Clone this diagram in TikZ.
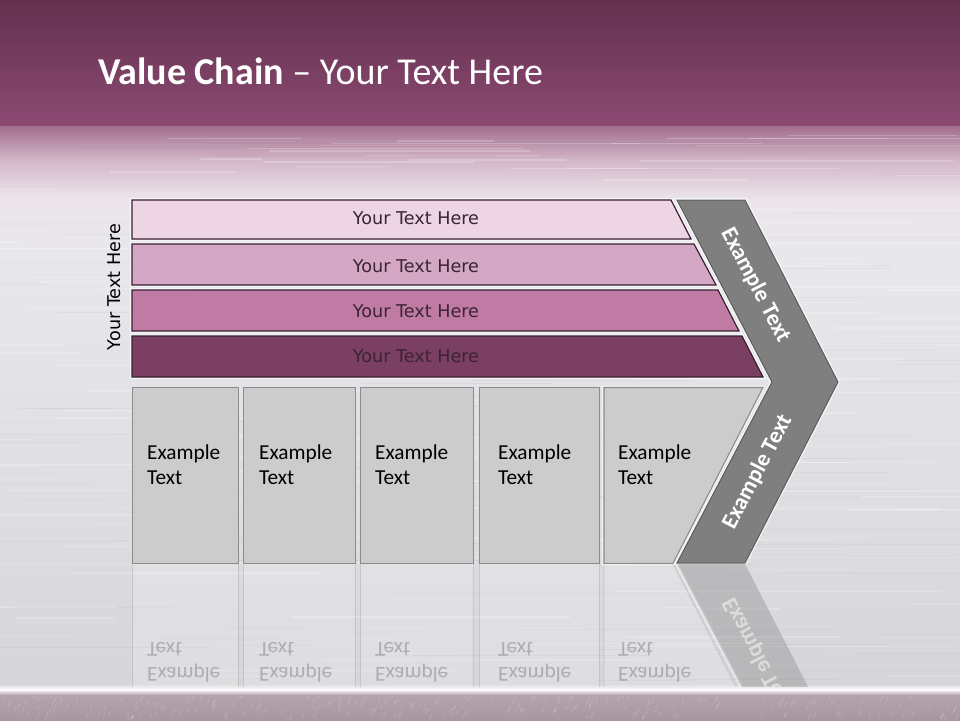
\documentclass[tikz,border=0pt]{standalone}
\usepackage{fontspec}
\setmainfont{Carlito}
\newfontfamily\dvs{DejaVu Sans}
\definecolor{bantop}{HTML}{62304E}
\definecolor{banbot}{HTML}{8D4B73}
\definecolor{fadeA}{HTML}{A4708F}
\definecolor{fadeB}{HTML}{D2B6C8}
\definecolor{fadeC}{HTML}{ECE6EC}
\definecolor{midA}{HTML}{E8E7EB}
\definecolor{midB}{HTML}{D6D6DA}
\definecolor{stripA}{HTML}{B5A3AE}
\definecolor{stripB}{HTML}{A8969F}
\definecolor{sone}{HTML}{EDD5E3}
\definecolor{stwo}{HTML}{D4A8C4}
\definecolor{sthree}{HTML}{BF7BA3}
\definecolor{sfour}{HTML}{7A3F62}
\definecolor{sline}{HTML}{3A1F33}
\definecolor{stext}{HTML}{3B2433}
\definecolor{boxfill}{HTML}{CCCCCC}
\definecolor{boxline}{HTML}{8C8C8C}
\definecolor{chev}{HTML}{7F7F7F}
\definecolor{chevline}{HTML}{5C5C5C}
\tikzset{
  stripe/.style={fill=#1,draw=sline,line width=1.2},
  stripetext/.style={font=\dvs\fontsize{17.6}{21}\selectfont,text=stext,anchor=base,inner sep=0},
  boxshape/.style={fill=boxfill,draw=boxline,line width=1.1},
  boxtext/.style={font=\fontsize{21.3}{25}\selectfont,align=left,anchor=base west,inner sep=0,text=black},
  chevtext/.style={font=\bfseries\fontsize{23}{27}\selectfont,text=white,inner sep=0},
  halo/.style={draw=white,line width=4,opacity=0.6},
}
\begin{document}
\begin{tikzpicture}[x=1pt,y=-1pt]
\useasboundingbox (0,0) rectangle (960,720);
% ---------- background ----------
\shade[top color=bantop,bottom color=banbot] (0,0) rectangle (960,127);
\shade[top color=fadeA,bottom color=fadeB] (0,126.5) rectangle (960,160);
\shade[top color=fadeB,bottom color=fadeC] (0,159.5) rectangle (960,200);
\shade[top color=fadeC,bottom color=midA] (0,199.5) rectangle (960,260);
\shade[top color=midA,bottom color=midB] (0,259.5) rectangle (960,688);
% brushed streaks
\pgfmathsetseed{11}
\foreach \i in {1,...,160}{
  \pgfmathsetmacro\yy{135+rnd*550}
  \pgfmathsetmacro\xx{-50+rnd*960}
  \pgfmathsetmacro\ll{60+rnd*320}
  \draw[white,opacity=0.22,line width=1.3] (\xx,\yy) -- ++(\ll,0);
}
\foreach \i in {1,...,90}{
  \pgfmathsetmacro\yy{135+rnd*550}
  \pgfmathsetmacro\xx{-50+rnd*960}
  \pgfmathsetmacro\ll{60+rnd*300}
  \draw[black,opacity=0.03,line width=1] (\xx,\yy) -- ++(\ll,0);
}
% bottom strip
\shade[top color=stripA,bottom color=stripB] (0,694) rectangle (960,720);
\foreach \i in {1,...,260}{
  \pgfmathsetmacro\yy{695+rnd*25}
  \pgfmathsetmacro\xx{rnd*960}
  \draw[white,opacity=0.18,line width=0.7] (\xx,\yy) -- ++(1.5+rnd*2,-3-rnd*3);
}
\shade[top color=midB,bottom color=white] (0,684) rectangle (960,689.5);
\shade[top color=white,bottom color=stripA] (0,689.5) rectangle (960,695);

% ---------- title ----------
\node[anchor=base west,inner sep=0,text=white,font=\fontsize{38}{45}\selectfont]
  (title) at (98,84.5) {\textbf{Value Chain} – Your Text Here};

% ---------- side label ----------
\node[font=\dvs\fontsize{17.6}{21}\selectfont,text=black,rotate=90,anchor=base,inner sep=0]
  (side) at (120.5,287) {Your Text Here};

% ---------- stripes ----------
\draw[halo] (132,200) -- (671,200) -- (691,239) -- (132,239) -- cycle;
\draw[halo] (132,244) -- (694,244) -- (716,285) -- (132,285) -- cycle;
\draw[halo] (132,290) -- (718,290) -- (739,331) -- (132,331) -- cycle;
\draw[halo] (132,336) -- (742,336) -- (763,377) -- (132,377) -- cycle;
\draw[stripe=sone]   (132,200) -- (671,200) -- (691,239) -- (132,239) -- cycle;
\draw[stripe=stwo]   (132,244) -- (694,244) -- (716,285) -- (132,285) -- cycle;
\draw[stripe=sthree] (132,290) -- (718,290) -- (739,331) -- (132,331) -- cycle;
\draw[stripe=sfour]  (132,336) -- (742,336) -- (763,377) -- (132,377) -- cycle;
\node[stripetext] (t1) at (416,224.8) {Your Text Here};
\node[stripetext] (t2) at (416,272.5) {Your Text Here};
\node[stripetext] (t3) at (416,317.5) {Your Text Here};
\node[stripetext] (t4) at (416,362.5) {Your Text Here};

% ---------- chevron ----------
\draw[halo] (677,200) -- (745,200) -- (838,382) -- (745,563) -- (677,563) -- (772,382) -- cycle;
\draw[fill=chev,draw=chevline,line width=1] (677,200) -- (745,200) -- (838,382) -- (745,563) -- (677,563) -- (772,382) -- cycle;
\node[chevtext,rotate=-62.4] (c1) at (755.5,285) {Example Text};
\node[chevtext,rotate=62.4] (c2) at (757.5,472) {Example Text};

% ---------- boxes ----------
\draw[halo] (604,387.5) -- (763,387.5) -- (673,563.3) -- (604,563.3) -- cycle;
\draw[boxshape] (132.3,387.3) rectangle (238.3,563.3);
\draw[boxshape] (243.3,387.3) rectangle (355.7,563.3);
\draw[boxshape] (360.3,387.3) rectangle (473.7,563.3);
\draw[boxshape] (479.3,387.3) rectangle (599.7,563.3);
\draw[boxshape] (604,387.5) -- (763,387.5) -- (673,563.3) -- (604,563.3) -- cycle;
\node[boxtext] (b1) at (147,484.3) {Example\\Text};
\node[boxtext] (b2) at (259,484.3) {Example\\Text};
\node[boxtext] (b3) at (375,484.3) {Example\\Text};
\node[boxtext] (b4) at (498,484.3) {Example\\Text};
\node[boxtext] (b5) at (618,484.3) {Example\\Text};

% ---------- reflection ----------
\begin{scope}
\clip (128,564.5) rectangle (860,686);
\begin{scope}[shift={(0,1127)},yscale=-1]
  \fill[white,opacity=0.18] (132.3,387.3) rectangle (238.3,563.3);
  \fill[white,opacity=0.18] (243.3,387.3) rectangle (355.7,563.3);
  \fill[white,opacity=0.18] (360.3,387.3) rectangle (473.7,563.3);
  \fill[white,opacity=0.18] (479.3,387.3) rectangle (599.7,563.3);
  \fill[white,opacity=0.18] (604,387.5) -- (763,387.5) -- (673,563.3) -- (604,563.3) -- cycle;
  \draw[boxline,opacity=0.3,line width=0.8] (132.3,387.3) rectangle (238.3,563.3);
  \draw[boxline,opacity=0.3,line width=0.8] (243.3,387.3) rectangle (355.7,563.3);
  \draw[boxline,opacity=0.3,line width=0.8] (360.3,387.3) rectangle (473.7,563.3);
  \draw[boxline,opacity=0.3,line width=0.8] (479.3,387.3) rectangle (599.7,563.3);
  \draw[boxline,opacity=0.3,line width=0.8] (604,387.5) -- (763,387.5) -- (673,563.3) -- (604,563.3) -- cycle;
  \draw[white,opacity=0.5,line width=3] (772,382) -- (677,563);
  \fill[chev,opacity=0.35] (838,382) -- (745,563) -- (677,563) -- (772,382) -- cycle;
  \node[boxtext,transform shape,opacity=0.22] (r1) at (147,484.3) {Example\\Text};
  \node[boxtext,transform shape,opacity=0.22] (r2) at (259,484.3) {Example\\Text};
  \node[boxtext,transform shape,opacity=0.22] (r3) at (375,484.3) {Example\\Text};
  \node[boxtext,transform shape,opacity=0.22] (r4) at (498,484.3) {Example\\Text};
  \node[boxtext,transform shape,opacity=0.22] (r5) at (618,484.3) {Example\\Text};
  \node[chevtext,transform shape,rotate=62.4,opacity=0.5] (rc) at (757.5,472) {Example Text};
\end{scope}
\end{scope}
\end{tikzpicture}
\end{document}
